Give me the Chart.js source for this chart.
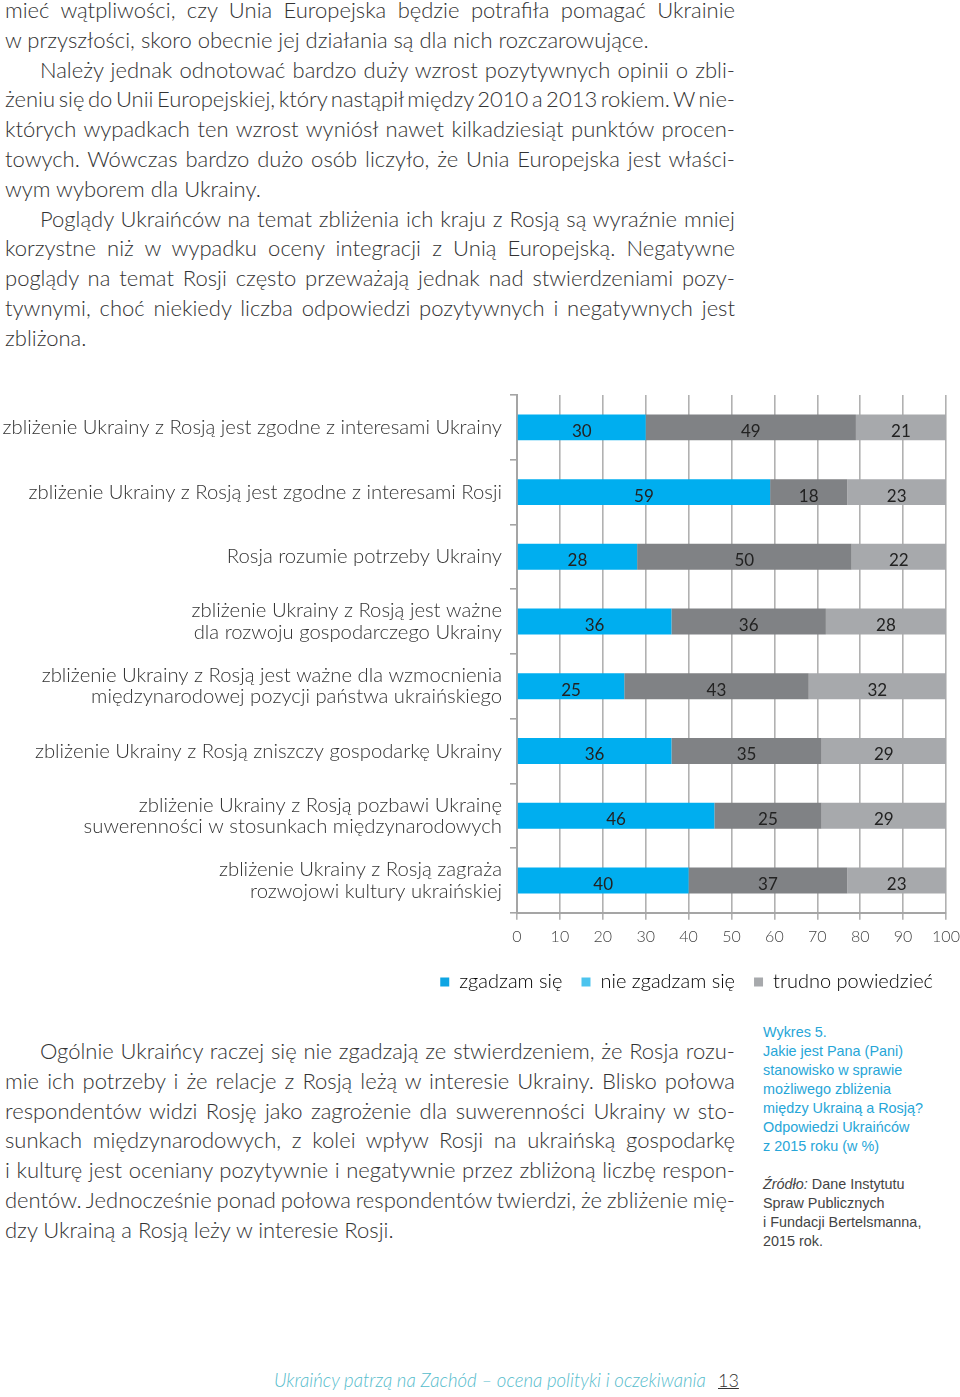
<!DOCTYPE html>
<html lang="pl">
<head>
<meta charset="utf-8">
<script src="https://cdn.jsdelivr.net/npm/chart.js@4.4.1/dist/chart.umd.min.js"></script>
<style>
  html, body { margin: 0; padding: 0; background: #fff; }
  body { width: 960px; height: 1397px; position: relative; overflow: hidden; font-family: Lato, "Open Sans", sans-serif; font-weight: 300; color: #333; }
  .txt { position: absolute; left: 5px; width: 730px; font-size: 22px; line-height: 29.8px; }
  .txt div { white-space: nowrap; }
  .txt span { display: inline-block; white-space: nowrap; }
  .ind { padding-left: 35px; }
  #chartBox { position: absolute; left: 0; top: 390px; width: 960px; height: 612px; }
  .side { position: absolute; left: 763px; font-family: "Liberation Sans", Arial, sans-serif; font-weight: 400; font-size: 14.4px; line-height: 19px; }
  .side.q { top: 1023px; color: #27a6d8; }
  .side.src { top: 1175px; color: #444; }
  .foot { position: absolute; top: 1369px; left: 274px; font-size: 18.6px; font-style: italic; color: #55bccc; white-space: nowrap; }
  .pnum { position: absolute; top: 1369px; left: 718px; font-size: 18px; color: #333; text-decoration: underline; }
</style>
</head>
<body>

<div class="txt" id="top" style="top:-5px">
  <div class="j"><span>mieć wątpliwości, czy Unia Europejska będzie potrafiła pomagać Ukrainie</span></div>
  <div><span>w przyszłości, skoro obecnie jej działania są dla nich rozczarowujące.</span></div>
  <div class="j ind"><span>Należy jednak odnotować bardzo duży wzrost pozytywnych opinii o zbli-</span></div>
  <div class="j"><span>żeniu się do Unii Europejskiej, który nastąpił między 2010 a 2013 rokiem. W nie-</span></div>
  <div class="j"><span>których wypadkach ten wzrost wyniósł nawet kilkadziesiąt punktów procen-</span></div>
  <div class="j"><span>towych. Wówczas bardzo dużo osób liczyło, że Unia Europejska jest właści-</span></div>
  <div><span>wym wyborem dla Ukrainy.</span></div>
  <div class="j ind"><span>Poglądy Ukraińców na temat zbliżenia ich kraju z Rosją są wyraźnie mniej</span></div>
  <div class="j"><span>korzystne niż w wypadku oceny integracji z Unią Europejską. Negatywne</span></div>
  <div class="j"><span>poglądy na temat Rosji często przeważają jednak nad stwierdzeniami pozy-</span></div>
  <div class="j"><span>tywnymi, choć niekiedy liczba odpowiedzi pozytywnych i negatywnych jest</span></div>
  <div><span>zbliżona.</span></div>
</div>

<div id="chartBox"><canvas id="opinionChart"></canvas></div>

<div class="txt" id="bottom" style="top:1036px">
  <div class="j ind"><span>Ogólnie Ukraińcy raczej się nie zgadzają ze stwierdzeniem, że Rosja rozu-</span></div>
  <div class="j"><span>mie ich potrzeby i że relacje z Rosją leżą w interesie Ukrainy. Blisko połowa</span></div>
  <div class="j"><span>respondentów widzi Rosję jako zagrożenie dla suwerenności Ukrainy w sto-</span></div>
  <div class="j"><span>sunkach międzynarodowych, z kolei wpływ Rosji na ukraińską gospodarkę</span></div>
  <div class="j"><span>i kulturę jest oceniany pozytywnie i negatywnie przez zbliżoną liczbę respon-</span></div>
  <div class="j"><span>dentów. Jednocześnie ponad połowa respondentów twierdzi, że zbliżenie mię-</span></div>
  <div><span>dzy Ukrainą a Rosją leży w interesie Rosji.</span></div>
</div>

<div class="side q">Wykres 5.<br>Jakie jest Pana (Pani)<br>stanowisko w sprawie<br>możliwego zbliżenia<br>między Ukrainą a Rosją?<br>Odpowiedzi Ukraińców<br>z 2015 roku (w %)</div>
<div class="side src"><i>Źródło:</i> Dane Instytutu<br>Spraw Publicznych<br>i Fundacji Bertelsmanna,<br>2015 rok.</div>

<div class="foot">Ukraińcy patrzą na Zachód – ocena polityki i oczekiwania</div>
<div class="pnum">13</div>

<script>
// justify every full line to the column width
document.querySelectorAll('.txt .j').forEach(line => {
  const span = line.querySelector('span');
  const avail = line.clientWidth - parseFloat(getComputedStyle(line).paddingLeft);
  const spaces = (span.textContent.match(/ /g) || []).length;
  if (spaces) span.style.wordSpacing = ((avail - span.getBoundingClientRect().width) / spaces) + 'px';
});

const statements = [
  'zbliżenie Ukrainy z Rosją jest zgodne z interesami Ukrainy',
  'zbliżenie Ukrainy z Rosją jest zgodne z interesami Rosji',
  'Rosja rozumie potrzeby Ukrainy',
  ['zbliżenie Ukrainy z Rosją jest ważne', 'dla rozwoju gospodarczego Ukrainy'],
  ['zbliżenie Ukrainy z Rosją jest ważne dla wzmocnienia', 'międzynarodowej pozycji państwa ukraińskiego'],
  'zbliżenie Ukrainy z Rosją zniszczy gospodarkę Ukrainy',
  ['zbliżenie Ukrainy z Rosją pozbawi Ukrainę', 'suwerenności w stosunkach międzynarodowych'],
  ['zbliżenie Ukrainy z Rosją zagraża', 'rozwojowi kultury ukraińskiej']
];
const agree = [30, 59, 28, 36, 25, 36, 46, 40];
const disagree = [49, 18, 50, 36, 43, 35, 25, 37];
const hardToSay = [21, 23, 22, 28, 32, 29, 29, 23];
const seriesNames = ['zgadzam się', 'nie zgadzam się', 'trudno powiedzieć'];
const barColors = ['#00aeef', '#808285', '#a7a9ac'];
const legendColors = ['#0ea5e3', '#4cc4ee', '#a7a9ac'];
const xTicks = [0, 10, 20, 30, 40, 50, 60, 70, 80, 90, 100];

const segmentLabels = {
  id: 'segmentLabels',
  afterDatasetsDraw(chart) {
    const ctx = chart.ctx;
    ctx.save();
    ctx.font = '400 17px Lato';
    ctx.fillStyle = '#222';
    ctx.textAlign = 'center';
    ctx.textBaseline = 'middle';
    chart.data.datasets.forEach((ds, i) => {
      chart.getDatasetMeta(i).data.forEach((bar, j) => {
        const p = bar.getProps(['x', 'y', 'base'], true);
        ctx.fillText(ds.data[j], (p.x + p.base) / 2, p.y + 4);
      });
    });
    ctx.restore();
  }
};

// keep the single legend row from wrapping on float rounding
const legendSlack = {
  id: 'legendSlack',
  beforeDraw(chart) {
    if (chart.legend && chart.legend.lineWidths) {
      chart.legend.lineWidths = chart.legend.lineWidths.map(w => w + 1);
    }
  }
};

const seriesData = [agree, disagree, hardToSay];
const ctx = document.getElementById('opinionChart').getContext('2d');
new Chart(ctx, {
  type: 'bar',
  data: {
    labels: statements,
    datasets: seriesData.map((d, i) => ({
      label: seriesNames[i],
      data: d,
      backgroundColor: barColors[i],
      borderWidth: 0,
      barPercentage: 0.8,
      categoryPercentage: 0.5
    }))
  },
  options: {
    indexAxis: 'y',
    responsive: true,
    maintainAspectRatio: false,
    animation: false,
    layout: { padding: { top: 5, right: 7 } },
    plugins: {
      tooltip: { enabled: false },
      legend: {
        position: 'bottom',
        align: 'end',
        labels: {
          boxWidth: 9,
          boxHeight: 9,
          padding: 19,
          color: '#333',
          font: { family: 'Lato', size: 20, weight: '300' },
          generateLabels: chart => chart.data.datasets.map((ds, i) => ({
            text: ds.label,
            fillStyle: legendColors[i],
            strokeStyle: legendColors[i],
            lineWidth: 0,
            datasetIndex: i,
            hidden: false
          }))
        }
      }
    },
    scales: {
      x: {
        stacked: true,
        min: 0,
        max: 100,
        afterBuildTicks: scale => { scale.ticks = xTicks.map(v => ({ value: v })); },
        afterFit: scale => { scale.paddingRight = 14; },
        grid: { color: '#b1b1b1', lineWidth: 1.6, tickLength: 7 },
        border: { color: '#a5a5a5', width: 2 },
        ticks: { color: '#444', padding: 7, font: { family: 'Lato', size: 16, weight: '300' } }
      },
      y: {
        stacked: true,
        afterFit: scale => { scale.width = 517; scale.paddingTop = 0; scale.paddingBottom = 0; },
        grid: { drawOnChartArea: false, drawTicks: true, tickLength: 7, color: '#a5a5a5', lineWidth: 1.6 },
        border: { color: '#a5a5a5', width: 2 },
        ticks: { color: '#333', padding: 8, font: { family: 'Lato', size: 20.3, weight: '300', lineHeight: 1.05 } }
      }
    }
  },
  plugins: [segmentLabels, legendSlack]
});
</script>
</body>
</html>
